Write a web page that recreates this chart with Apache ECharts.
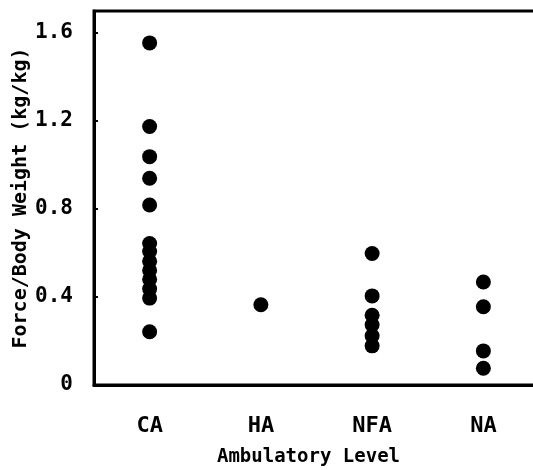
<!DOCTYPE html>
<html lang="en">

<head>
  <meta charset="UTF-8">
  <title>Force/Body Weight by Ambulatory Level</title>
  <script src="https://cdn.jsdelivr.net/npm/echarts@6/dist/echarts.min.js"></script>
</head>
<style>
  * {
    margin: 0px;
    padding: 0px;
  }

  #chart {
    width: 533px;
    height: 470px;
  }
</style>

<body>
  <div id="chart"></div>
</body>
<script>
  // categories and values
  var categories = ['CA', 'HA', 'NFA', 'NA']
  var caValues = [1.555, 1.175, 1.038, 0.94, 0.818, 0.643, 0.607, 0.562, 0.521, 0.48, 0.437, 0.395, 0.242]
  var haValues = [0.365]
  var nfaValues = [0.598, 0.405, 0.317, 0.274, 0.224, 0.178]
  var naValues = [0.468, 0.356, 0.155, 0.076]
  var yTicks = [0, 0.4, 0.8, 1.2, 1.6]

  var groups = [caValues, haValues, nfaValues, naValues]
  var points = []
  groups.forEach(function (vals, i) {
    vals.forEach(function (v) {
      points.push([categories[i], v])
    })
  })

  var font = '"DejaVu Sans Mono", "Liberation Mono", monospace'
  var chart = echarts.init(document.getElementById('chart'))
  chart.setOption({
    animation: false,
    backgroundColor: '#fff',
    grid: {
      left: 94,
      top: 11,
      width: 445,
      height: 374,
      outerBoundsMode: 'none',
      containLabel: false,
      show: true,
      borderColor: '#000',
      borderWidth: 3
    },
    xAxis: {
      type: 'category',
      data: categories,
      name: 'Ambulatory Level',
      nameLocation: 'middle',
      nameGap: 63,
      nameMoveOverlap: false,
      nameTextStyle: {
        color: '#000',
        fontFamily: font,
        fontWeight: 'bold',
        fontSize: 19,
        padding: [0, 16, 0, 0]
      },
      axisLine: { lineStyle: { color: '#000', width: 3 } },
      axisTick: {
        alignWithLabel: true,
        inside: true,
        length: 5,
        lineStyle: { color: '#000', width: 2 }
      },
      axisLabel: {
        color: '#000',
        fontFamily: font,
        fontWeight: 'bold',
        fontSize: 22,
        margin: 30
      },
      splitLine: { show: false }
    },
    yAxis: {
      type: 'value',
      min: 0,
      max: 1.7,
      interval: 0.4,
      name: 'Force/Body Weight (kg/kg)',
      nameLocation: 'middle',
      nameGap: 63,
      nameMoveOverlap: false,
      nameTextStyle: {
        color: '#000',
        fontFamily: font,
        fontWeight: 'bold',
        fontSize: 20
      },
      axisLine: { show: true, lineStyle: { color: '#000', width: 3 } },
      axisTick: {
        show: true,
        inside: true,
        length: 4,
        lineStyle: { color: '#000', width: 2 }
      },
      axisLabel: {
        color: '#000',
        fontFamily: font,
        fontWeight: 'bold',
        fontSize: 21,
        margin: 21,
        showMaxLabel: false,
        formatter: function (v) {
          return yTicks.indexOf(v) >= 0 ? (v === 0 ? '0' : v.toFixed(1)) : ''
        }
      },
      splitLine: { show: false }
    },
    series: [{
      type: 'scatter',
      symbol: 'circle',
      symbolSize: 15,
      itemStyle: { color: '#000', opacity: 1 },
      data: points
    }]
  })
</script>

</html>
